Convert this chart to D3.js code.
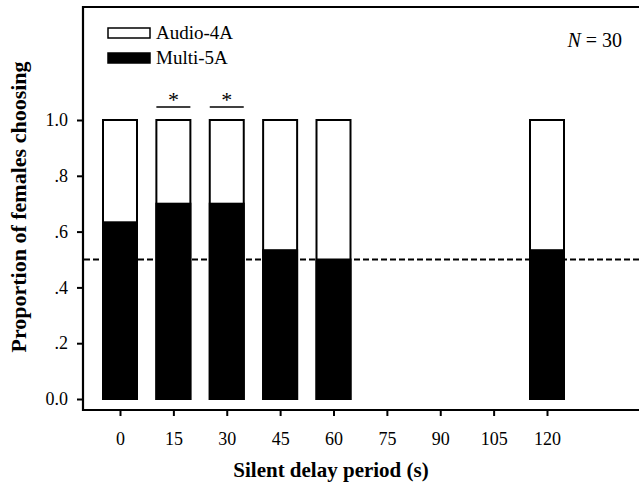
<!DOCTYPE html>
<html>
<head>
<meta charset="utf-8">
<script src="https://cdn.jsdelivr.net/npm/d3@7"></script>
<style>
  body { margin: 0; background: #fff; }
  svg { display: block; }
  text { font-family: "Liberation Serif", "Times New Roman", serif; fill: #000; }
</style>
</head>
<body>
<svg id="chart" width="639" height="488"></svg>
<script>
// delays (s) that were tested, and proportion choosing Multi-5A
const delays = [0, 15, 30, 45, 60, 120];
const multi = [19 / 30, 21 / 30, 21 / 30, 16 / 30, 15 / 30, 16 / 30];
const xTicks = [0, 15, 30, 45, 60, 75, 90, 105, 120];
const yTicks = [0, 0.2, 0.4, 0.6, 0.8, 1.0];
const yLabels = ["0.0", ".2", ".4", ".6", ".8", "1.0"];
const signif = [15, 30];

const svg = d3.select("#chart");

const x = d3.scaleLinear().domain([0, 120]).range([120, 547]);
const y = d3.scaleLinear().domain([0, 1]).range([399, 120]);
const barW = 34;

// frame (right edge runs off the picture)
svg.append("path")
  .attr("d", "M645,7 H83 V410 H645")
  .attr("fill", "none")
  .attr("stroke", "#000")
  .attr("stroke-width", 2.2);

// y axis ticks
const yAxis = svg.append("g").attr("transform", "translate(83,0)")
  .call(d3.axisLeft(y).tickValues(yTicks).tickSize(6).tickFormat((d, i) => yLabels[i]));
yAxis.select(".domain").remove();
yAxis.selectAll("line").attr("stroke-width", 2);
yAxis.selectAll("text").attr("font-size", 18).attr("x", -15)
  .style("font-family", "Liberation Serif");

// x axis ticks
const xAxis = svg.append("g").attr("transform", "translate(0,410)")
  .call(d3.axisBottom(x).tickValues(xTicks).tickSize(6).tickPadding(16));
xAxis.select(".domain").remove();
xAxis.selectAll("line").attr("stroke-width", 2);
xAxis.selectAll("text").attr("font-size", 18)
  .style("font-family", "Liberation Serif");

// dashed chance line
svg.append("line")
  .attr("x1", 84).attr("x2", 645)
  .attr("y1", y(0.5)).attr("y2", y(0.5))
  .attr("stroke", "#000")
  .attr("stroke-width", 2)
  .attr("stroke-dasharray", "6,3");

const bars = svg.append("g");
// Audio-4A (white, full height)
bars.selectAll("rect.audio")
  .data(delays)
  .join("rect")
  .attr("class", "audio")
  .attr("x", d => x(d) - barW / 2)
  .attr("y", y(1))
  .attr("width", barW)
  .attr("height", y(0) - y(1))
  .attr("fill", "#fff")
  .attr("stroke", "#000")
  .attr("stroke-width", 2);

// Multi-5A (black, bottom part)
bars.selectAll("rect.multi")
  .data(delays)
  .join("rect")
  .attr("class", "multi")
  .attr("x", d => x(d) - barW / 2)
  .attr("y", (d, i) => y(multi[i]))
  .attr("width", barW)
  .attr("height", (d, i) => y(0) - y(multi[i]))
  .attr("fill", "#000")
  .attr("stroke", "#000")
  .attr("stroke-width", 2);

// significance marks
signif.forEach(d => {
  svg.append("line")
    .attr("x1", x(d) - 17).attr("x2", x(d) + 17)
    .attr("y1", 107).attr("y2", 107)
    .attr("stroke", "#000").attr("stroke-width", 1.5);
  svg.append("text")
    .attr("x", x(d)).attr("y", 107)
    .attr("text-anchor", "middle")
    .attr("font-size", 22)
    .text("*");
});

// legend
const legend = [
  { name: "Audio-4A", fill: "#fff", y: 28 },
  { name: "Multi-5A", fill: "#000", y: 53 }
];
legend.forEach(l => {
  svg.append("rect")
    .attr("x", 108).attr("y", l.y)
    .attr("width", 42).attr("height", 10)
    .attr("fill", l.fill)
    .attr("stroke", "#000").attr("stroke-width", 1.5);
  svg.append("text")
    .attr("x", 156).attr("y", l.y + 11)
    .attr("font-size", 19)
    .text(l.name);
});

// N label
const nText = svg.append("text")
  .attr("x", 622).attr("y", 47)
  .attr("text-anchor", "end")
  .attr("font-size", 20);
nText.append("tspan").attr("font-style", "italic").text("N");
nText.append("tspan").text(" = 30");

// axis titles
svg.append("text")
  .attr("x", 331).attr("y", 477)
  .attr("text-anchor", "middle")
  .attr("font-size", 21)
  .attr("font-weight", "bold")
  .text("Silent delay period (s)");

svg.append("text")
  .attr("transform", "translate(26,207) rotate(-90)")
  .attr("text-anchor", "middle")
  .attr("font-size", 22)
  .attr("font-weight", "bold")
  .text("Proportion of females choosing");
</script>
</body>
</html>
